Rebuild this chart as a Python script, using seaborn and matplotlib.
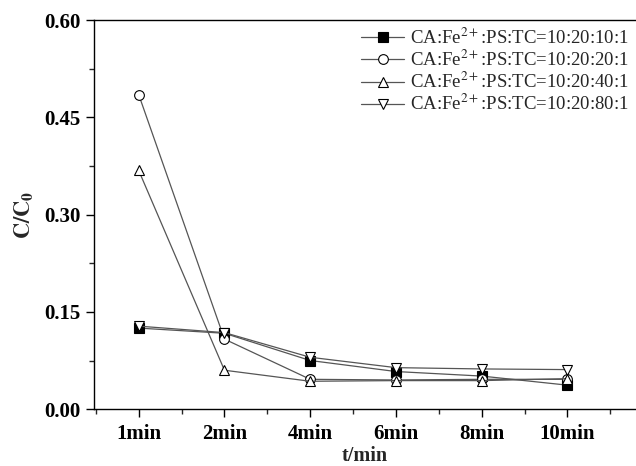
import matplotlib
matplotlib.use("Agg")
import matplotlib.pyplot as plt
import seaborn as sns
import pandas as pd
import numpy as np
from matplotlib.ticker import MultipleLocator, FixedLocator

times = ["1min", "2min", "4min", "6min", "8min", "10min"]
labels = ["CA:Fe$^{2+}$:PS:TC=10:20:10:1",
          "CA:Fe$^{2+}$:PS:TC=10:20:20:1",
          "CA:Fe$^{2+}$:PS:TC=10:20:40:1",
          "CA:Fe$^{2+}$:PS:TC=10:20:80:1"]
s_10 = [0.125, 0.117, 0.075, 0.058, 0.051, 0.037]
s_20 = [0.485, 0.108, 0.046, 0.045, 0.046, 0.046]
s_40 = [0.368, 0.060, 0.043, 0.044, 0.044, 0.047]
s_80 = [0.128, 0.118, 0.080, 0.064, 0.062, 0.061]
series = [s_10, s_20, s_40, s_80]
y_ticks = [0.00, 0.15, 0.30, 0.45, 0.60]

sns.set_theme(style="ticks")
plt.rcParams["font.family"] = ["Liberation Serif", "DejaVu Serif"]
plt.rcParams["mathtext.fontset"] = "stix"

fig = plt.figure(figsize=(6.36, 4.66), dpi=100)
ax = fig.add_axes([0.148, 0.122, 0.852, 0.835])

markers = ["s", "o", "^", "v"]
faces = ["black", "white", "white", "white"]
for vals, lab, mk, fc in zip(series, labels, markers, faces):
    df = pd.DataFrame({"t": times, "v": vals})
    sns.lineplot(data=df, x="t", y="v", ax=ax, sort=False, color="#555555",
                 linewidth=0.9, marker=mk, markersize=7,
                 markerfacecolor=fc, markeredgecolor="black",
                 markeredgewidth=0.8, label=lab)

ax.set_xlim(-0.52, 5.8)
ax.set_ylim(0, 0.60)
ax.xaxis.set_major_locator(FixedLocator(range(len(times))))
ax.set_xticklabels(times)
ax.xaxis.set_minor_locator(FixedLocator(np.arange(-0.5, 5.6, 1.0)))
ax.set_yticks(y_ticks)
ax.set_yticklabels([f"{v:.2f}" for v in y_ticks])
ax.yaxis.set_minor_locator(MultipleLocator(0.075))

ax.tick_params(axis="both", which="major", direction="out", length=6,
               width=1, labelsize=15, colors="black")
ax.tick_params(axis="x", which="major", pad=5)
ax.tick_params(axis="both", which="minor", direction="out", length=3.5, width=1)
for t in ax.get_xticklabels() + ax.get_yticklabels():
    t.set_fontweight("bold")

for sp in ["left", "bottom", "top"]:
    ax.spines[sp].set_color("black")
    ax.spines[sp].set_linewidth(1)
ax.spines["right"].set_visible(False)

ax.set_xlabel("t/min", fontsize=14.5, fontweight="bold", labelpad=1)
ax.set_ylabel(r"$\mathbf{C/C_0}$", fontsize=16, labelpad=6)

ax.legend(loc="upper right", frameon=False, fontsize=13.5, handlelength=2.3,
          handletextpad=0.3, labelspacing=0.1, borderaxespad=0.0,
          bbox_to_anchor=(1.0, 1.0), markerscale=1.0)

fig.savefig("out.png", dpi=100, facecolor="white")
